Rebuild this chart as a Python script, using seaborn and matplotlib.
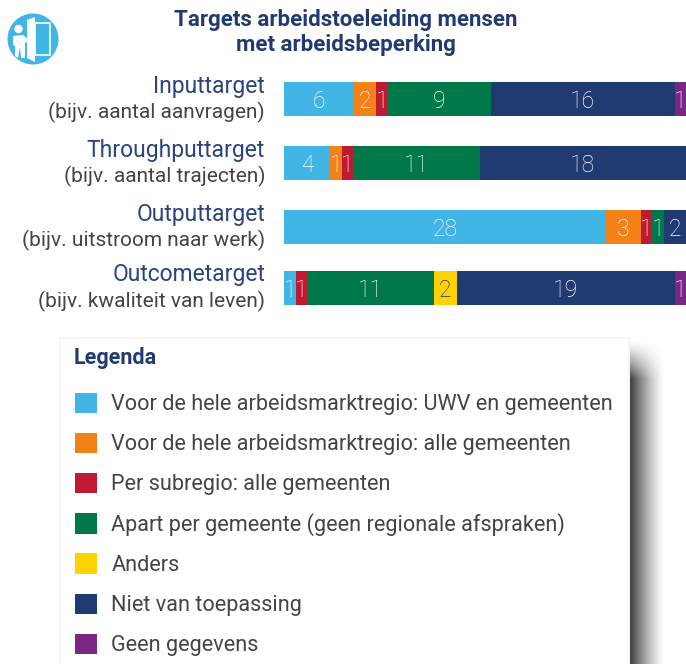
import numpy as np
import pandas as pd
import matplotlib
matplotlib.use("Agg")
import matplotlib.pyplot as plt
from matplotlib.patches import Circle, Polygon, Rectangle
import seaborn as sns

# data
targets = ["Inputtarget", "Throughputtarget", "Outputtarget", "Outcometarget"]
examples = ["(bijv. aantal aanvragen)", "(bijv. aantal trajecten)",
            "(bijv. uitstroom naar werk)", "(bijv. kwaliteit van leven)"]
series_names = ["Voor de hele arbeidsmarktregio: UWV en gemeenten",
                "Voor de hele arbeidsmarktregio: alle gemeenten",
                "Per subregio: alle gemeenten",
                "Apart per gemeente (geen regionale afspraken)",
                "Anders",
                "Niet van toepassing",
                "Geen gegevens"]
uwv_gemeenten = [6, 4, 28, 1]
alle_gemeenten = [2, 1, 3, 0]
subregio = [1, 1, 1, 1]
per_gemeente = [9, 11, 1, 11]
anders = [0, 0, 0, 2]
niet_van_toepassing = [16, 18, 2, 19]
geen_gegevens = [1, 0, 0, 1]
series_values = [uwv_gemeenten, alle_gemeenten, subregio, per_gemeente,
                 anders, niet_van_toepassing, geen_gegevens]
series_colors = ["#41b6e6", "#f28118", "#be1a32", "#00794a",
                 "#ffd200", "#203a72", "#7b2682"]
title_lines = ["Targets arbeidstoeleiding mensen", "met arbeidsbeperking"]

NAVY = "#2a4480"
GREY = "#444444"
FONT = "Roboto"

sns.set_theme(style="white")
plt.rcParams["font.family"] = [FONT, "DejaVu Sans"]

W, H = 686, 664
fig = plt.figure(figsize=(W / 100, H / 100), dpi=100, facecolor="white")

# overlay in pixel coordinates for the text, icon and legend panel
bg = fig.add_axes([0, 0, 1, 1], zorder=0)
bg.axis("off")

# shadow right of the legend panel
xs, ys = np.meshgrid(np.arange(600, W), np.arange(330, H))
fade_x = np.clip((664 - xs) / 35, 0, 1)
fade_y = np.clip((ys - 340) / 38, 0, 1)
shadow = np.zeros(xs.shape + (4,))
shadow[..., 3] = 0.78 * (fade_x * fade_y) ** 1.3
bg.imshow(shadow, extent=(600, W, H, 330), aspect="auto", zorder=1, interpolation="bilinear")
bg.set_xlim(0, W)
bg.set_ylim(H, 0)
bg.add_patch(Rectangle((60, 338), 569, 340, fc="white", ec="#f6f6f6", lw=1.5, zorder=2))

# stacked bars, one seaborn call per series
row_y = [99, 163, 227, 288]
ax = fig.add_axes([284 / W, 0, 402.5 / W, 1], zorder=1)
ax.patch.set_alpha(0)
left = np.zeros(4)
for name, vals, col in zip(series_names, series_values, series_colors):
    vals = np.array(vals)
    sns.barplot(x=vals, y=row_y, orient="y", native_scale=True, color=col,
                width=34 / 61, left=left, errorbar=None, saturation=1,
                linewidth=0, ax=ax, label=name, legend=False)
    cont = ax.containers[-1]
    txt_col = "#203a72" if name == "Anders" else "white"
    labels = ax.bar_label(cont, labels=[str(v) if v else "" for v in vals], label_type="center",
                          color=txt_col, fontsize=16.5, fontweight="light")
    for lab in labels:
        lab.xyann = (0, -1.5)
    left = left + vals
ax.set_xlim(0, 35)
ax.set_ylim(H, 0)
ax.axis("off")

# title and row labels
for y, line in zip([20, 45], title_lines):
    bg.text(346, y, line, ha="center", va="center", fontsize=16, fontweight="bold", color="#203a72")
for y, t, e in zip(row_y, targets, examples):
    bg.text(265, y - 13, t, ha="right", va="center", fontsize=16.5, color=NAVY)
    bg.text(265, y + 13, e, ha="right", va="center", fontsize=15, color=GREY)

# door icon
bg.add_patch(Circle((33, 39), 25.5, fc="#41b6e6", ec="none"))
bg.add_patch(Polygon([(27, 20), (35, 17), (35, 62), (27, 58)], fc="white", ec="none"))
bg.add_patch(Rectangle((34.5, 23), 15, 32, fc="none", ec="white", lw=1.2))
bg.add_patch(Circle((18.5, 29), 4.2, fc="white", ec="none"))
bg.add_patch(Polygon([(13, 36), (23, 35), (31, 42), (30, 44), (25, 42), (25, 58), (21, 58),
                      (20, 47), (18, 58), (15, 56), (15, 46), (13, 45)], fc="white", ec="none"))

# legend
bg.text(74, 358, "Legenda", ha="left", va="center", fontsize=15.5, fontweight="bold", color="#203a72", zorder=3)
handles = ax.containers[:7]
leg = bg.legend(handles, series_names, loc="upper left", bbox_to_anchor=(75 / W, 1 - 392.5 / H),
                bbox_transform=fig.transFigure, frameon=False,
                fontsize=15.6, handlelength=1.02, handleheight=1.07, handletextpad=0.65,
                labelspacing=0.81, borderpad=0, borderaxespad=0)
leg.set_zorder(3)
for t in leg.get_texts():
    t.set_color(GREY)

fig.savefig("out.png", dpi=100)
